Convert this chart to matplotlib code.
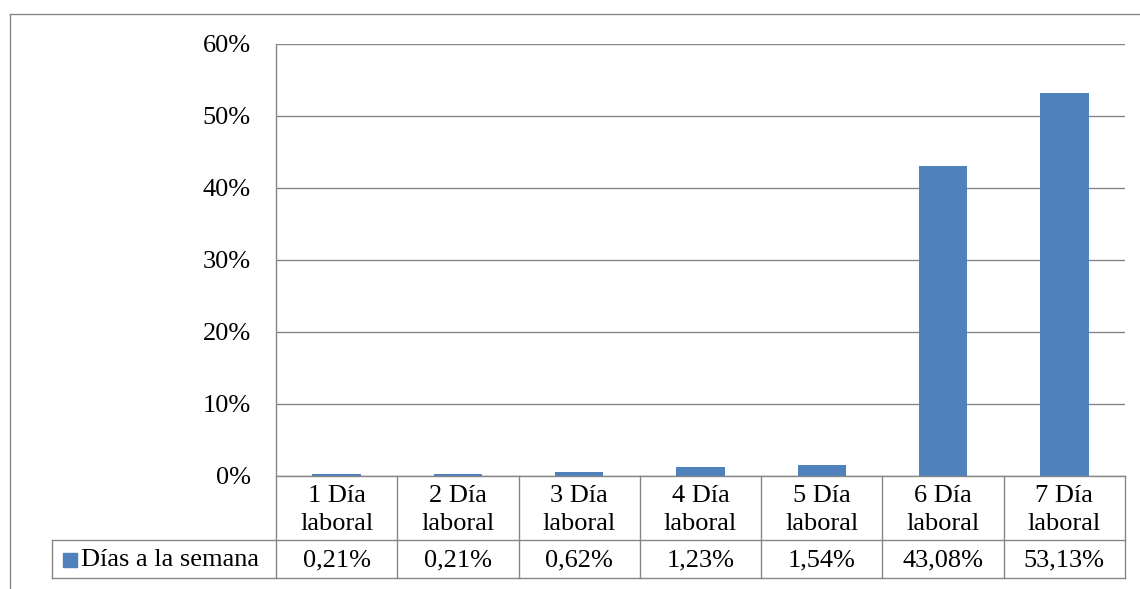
import matplotlib
matplotlib.use("Agg")
import matplotlib.pyplot as plt
from matplotlib.lines import Line2D
from matplotlib.patches import Rectangle

categories = ["1 Día\nlaboral", "2 Día\nlaboral", "3 Día\nlaboral", "4 Día\nlaboral",
              "5 Día\nlaboral", "6 Día\nlaboral", "7 Día\nlaboral"]
values = [0.21, 0.21, 0.62, 1.23, 1.54, 43.08, 53.13]
value_labels = ["0,21%", "0,21%", "0,62%", "1,23%", "1,54%", "43,08%", "53,13%"]
series_name = "Días a la semana"
yticks = [0, 10, 20, 30, 40, 50, 60]

W, H = 1140, 589
FS = 19
plt.rcParams['font.family'] = ['Liberation Serif', 'DejaVu Serif']
fig = plt.figure(figsize=(W / 100, H / 100), dpi=100)

def fx(px):
    return px / W

def fy(py):
    return 1 - py / H

left, right, top, base = 276, 1125, 44, 476
ax = fig.add_axes([fx(left), fy(base), fx(right) - fx(left), fy(top) - fy(base)])
bar_color = "#4F81BD"
grid_color = "#868686"
x = list(range(len(values)))
ax.bar(x, values, width=0.40, color=bar_color, zorder=3)
ax.set_xlim(-0.5, len(values) - 0.5)
ax.set_ylim(0, 60)
ax.set_yticks(yticks)
ax.set_yticklabels([f"{t}%" for t in yticks], fontsize=FS)
ax.tick_params(axis='y', length=0, pad=18)
ax.set_xticks([])
for s in ax.spines.values():
    s.set_visible(False)
ax.yaxis.grid(True, color=grid_color, linewidth=1.0, zorder=0)
ax.set_axisbelow(True)

def hline(y, x0, x1, c=grid_color, lw=1.0):
    fig.add_artist(Line2D([fx(x0), fx(x1)], [fy(y), fy(y)], color=c, lw=lw))

def vline(xp, y0, y1, c=grid_color, lw=1.0):
    fig.add_artist(Line2D([fx(xp), fx(xp)], [fy(y0), fy(y1)], color=c, lw=lw))

# outer border
hline(14, 10, W)
vline(10, 14, H)

# table
row1, row2 = 540, 578
colw = (right - left) / len(values)
hline(base, left, right)
hline(row1, 52, right)
hline(row2, 52, right)
vline(52, row1, row2)
vline(left, top, row2)
for i in range(1, len(values) + 1):
    vline(left + i * colw, base, row2)

for i, (cat, lab) in enumerate(zip(categories, value_labels)):
    cx = left + (i + 0.5) * colw
    fig.text(fx(cx), fy((base + row1) / 2 + 2), cat, ha='center', va='center',
             fontsize=FS, linespacing=1.35)
    fig.text(fx(cx), fy((row1 + row2) / 2 + 1), lab, ha='center', va='center', fontsize=FS)

fig.add_artist(Rectangle((fx(63), fy(567)), fx(14), fy(553) - fy(567), color=bar_color))
fig.text(fx(81), fy((row1 + row2) / 2 + 1), series_name, ha='left', va='center', fontsize=FS)

fig.savefig("out.png", dpi=100)
